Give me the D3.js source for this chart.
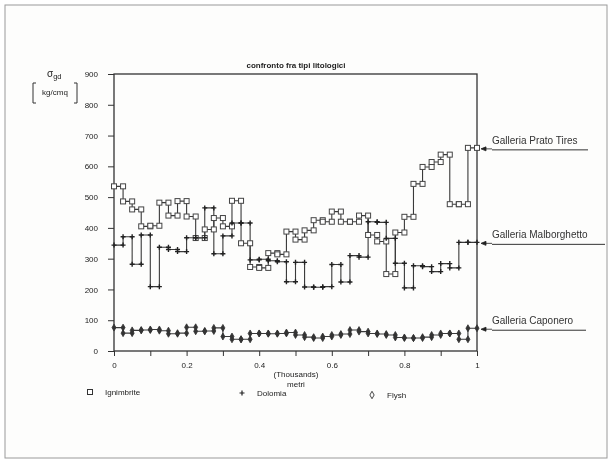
<!DOCTYPE html>
<html>
<head>
<meta charset="utf-8">
<script src="https://cdn.jsdelivr.net/npm/d3@7"></script>
<style>
  body { margin: 0; background: #fff; }
  svg { will-change: transform; }
  text { font-family: "Liberation Sans", Arial, sans-serif; fill: #222; }
</style>
</head>
<body>
<div id="chart"></div>
<script>
// distances along the tunnel (metres), one interval every 25 m
var metri = [0,25,50,75,100,125,150,175,200,225,250,275,300,325,350,375,400,425,450,475,
             500,525,550,575,600,625,650,675,700,725,750,775,800,825,850,875,900,925,950,975,1000];

// sigma gd per interval (kg/cmq)
var ignimbrite = [535,486,460,405,407,482,440,487,437,367,395,432,405,488,350,273,270,318,314,388,
                  362,392,425,420,453,420,420,440,377,356,250,385,436,543,598,614,638,477,477,660];
var dolomia = [344,371,282,377,209,337,330,323,368,368,465,316,374,416,416,296,298,293,290,225,
               288,208,207,209,281,224,310,305,420,418,366,285,205,277,274,258,284,270,353,353];
var flysch = [76,58,67,68,70,66,56,58,77,64,65,75,47,38,38,57,57,56,57,60,
              52,45,42,47,52,55,68,63,57,55,52,44,42,42,45,52,57,57,38,74];

var yTicks = [0,100,200,300,400,500,600,700,800,900];
var xTicks = [0,0.1,0.2,0.3,0.4,0.5,0.6,0.7,0.8,0.9,1];
var xTickLabels = ["0","","0.2","","0.4","","0.6","","0.8","","1"];
var gallerie = ["Galleria  Prato Tires","Galleria  Malborghetto","Galleria  Caponero"];
var legendNames = ["Ignimbrite","Dolomia","Flysh"];

var W = 613, H = 464;

var svg = d3.select("#chart")
  .append("svg")
    .attr("width", W)
    .attr("height", H);

// page frame
svg.append("rect")
  .attr("x", 5).attr("y", 5).attr("width", W - 11).attr("height", H - 11)
  .style("fill", "#fdfdfc").style("stroke", "#9a9a9a").style("stroke-width", 1);

var x = d3.scaleLinear().domain([0, 1]).range([114, 477]);
var y = d3.scaleLinear().domain([0, 900]).range([351, 74]);

// plot box
svg.append("rect")
  .attr("x", x(0)).attr("y", y(900))
  .attr("width", x(1) - x(0)).attr("height", y(0) - y(900))
  .style("fill", "none").style("stroke", "#333").style("stroke-width", 1.3);

// axes
var yAxis = svg.append("g")
  .attr("transform", "translate(" + x(0) + ",0)")
  .call(d3.axisLeft(y).tickValues(yTicks).tickSize(6).tickPadding(10));
var xAxis = svg.append("g")
  .attr("transform", "translate(0," + y(0) + ")")
  .call(d3.axisBottom(x).tickValues(xTicks).tickSize(5).tickPadding(6)
        .tickFormat(function(d, i) { return xTickLabels[i]; }));
[yAxis, xAxis].forEach(function(a) {
  a.select(".domain").remove();
  a.selectAll("line").style("stroke", "#333");
  a.selectAll("text").style("font-size", "8px").style("fill", "#222")
    .style("font-family", "'Liberation Sans', Arial, sans-serif");
});

// title
svg.append("text").attr("x", 296).attr("y", 68)
  .attr("text-anchor", "middle").style("font-size", "8px").style("font-weight", "bold")
  .text("confronto fra tipi litologici");

// y label
var yl = svg.append("text").attr("x", 47).attr("y", 77).style("font-size", "10px");
yl.append("tspan").text("\u03c3");
yl.append("tspan").attr("dy", 2).style("font-size", "7.5px").text("gd");
svg.append("text").attr("x", 55).attr("y", 95).attr("text-anchor", "middle")
  .style("font-size", "8px").text("kg/cmq");
svg.append("path").attr("d", "M36,83 H33 V103 H36 M74,83 H77 V103 H74")
  .style("fill", "none").style("stroke", "#333").style("stroke-width", 1);

// x label
svg.append("text").attr("x", 296).attr("y", 377).attr("text-anchor", "middle")
  .style("font-size", "8px").text("(Thousands)");
svg.append("text").attr("x", 296).attr("y", 387).attr("text-anchor", "middle")
  .style("font-size", "8px").text("metri");

// step lines
var stepLine = d3.line()
  .x(function(d) { return x(d.m / 1000); })
  .y(function(d) { return y(d.v); })
  .curve(d3.curveStepAfter);

function steps(vals) {
  var pts = vals.map(function(v, i) { return {m: metri[i], v: v}; });
  pts.push({m: metri[vals.length], v: vals[vals.length - 1]});
  return pts;
}
function ends(vals) {
  var out = [];
  vals.forEach(function(v, i) {
    out.push({m: metri[i], v: v});
    out.push({m: metri[i + 1], v: v});
  });
  return out;
}

var series = [
  {name: "ignimbrite", values: ignimbrite},
  {name: "dolomia", values: dolomia},
  {name: "flysch", values: flysch}
];

svg.selectAll("myLines")
  .data(series)
  .enter()
  .append("path")
    .attr("d", function(d) { return stepLine(steps(d.values)); })
    .style("fill", "none")
    .style("stroke", "#3a3a3a")
    .style("stroke-width", 1.1);

// markers
svg.append("g").selectAll("sq")
  .data(ends(ignimbrite)).enter()
  .append("rect")
    .attr("x", function(d) { return x(d.m / 1000) - 2.5; })
    .attr("y", function(d) { return y(d.v) - 2.5; })
    .attr("width", 5).attr("height", 5)
    .style("fill", "#fff").style("stroke", "#444").style("stroke-width", 1);

svg.append("g").selectAll("pl")
  .data(ends(dolomia)).enter()
  .append("path")
    .attr("d", "M-2.5,0 H2.5 M0,-2.5 V2.5")
    .attr("transform", function(d) { return "translate(" + x(d.m / 1000) + "," + y(d.v) + ")"; })
    .style("stroke", "#222").style("stroke-width", 1.4).style("fill", "none");

var diamond = d3.symbol().type(d3.symbolDiamond).size(14);
svg.append("g").selectAll("dm")
  .data(ends(flysch)).enter()
  .append("path")
    .attr("d", diamond)
    .attr("transform", function(d) { return "translate(" + x(d.m / 1000) + "," + y(d.v) + ")"; })
    .style("fill", "#333").style("stroke", "#333").style("stroke-width", 0.8);

// right side labels with arrows
var lastVals = [ignimbrite[39], dolomia[39], flysch[39]];
var labelWidths = [96, 113, 94];
gallerie.forEach(function(name, i) {
  var ly = y(lastVals[i]) + 1;
  svg.append("path")
    .attr("d", "M" + (x(1) + 4) + "," + ly + " l5,-2 v4 z M" + (x(1) + 9) + "," + ly + " h6")
    .style("fill", "#222").style("stroke", "#222").style("stroke-width", 0.8);
  svg.append("text").attr("x", 492).attr("y", ly - 5)
    .style("font-size", "10px").style("fill", "#333").text(name);
  svg.append("line")
    .attr("x1", 492).attr("x2", 492 + labelWidths[i])
    .attr("y1", ly + 1).attr("y2", ly + 1)
    .style("stroke", "#333").style("stroke-width", 1);
});

// legend
var legendX = [90, 242, 372];
var legendY = [392, 393, 395];
svg.append("rect").attr("x", legendX[0] - 2.5).attr("y", legendY[0] - 2.5)
  .attr("width", 5).attr("height", 5)
  .style("fill", "#fff").style("stroke", "#333").style("stroke-width", 1);
svg.append("path").attr("d", "M-2.5,0 H2.5 M0,-2.5 V2.5")
  .attr("transform", "translate(" + legendX[1] + "," + legendY[1] + ")")
  .style("stroke", "#222").style("stroke-width", 1.2);
svg.append("path").attr("d", d3.symbol().type(d3.symbolDiamond).size(16))
  .attr("transform", "translate(" + legendX[2] + "," + legendY[2] + ")")
  .style("fill", "none").style("stroke", "#333").style("stroke-width", 0.9);
legendNames.forEach(function(n, i) {
  svg.append("text").attr("x", legendX[i] + 15).attr("y", legendY[i] + 3)
    .style("font-size", "8px").text(n);
});
</script>
</body>
</html>
